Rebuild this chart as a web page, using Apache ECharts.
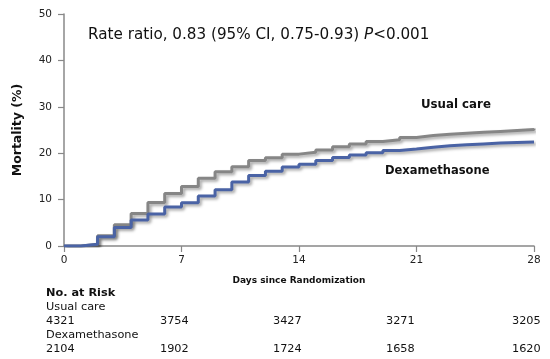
<!DOCTYPE html>
<html><head><meta charset="utf-8">
<script src="https://cdn.jsdelivr.net/npm/echarts@6/dist/echarts.min.js"></script>
<style>html,body{margin:0;padding:0;background:#fff}#c{width:550px;height:359px}</style>
</head><body><div id="c"></div>
<script>
const days = [0,1,2,3,4,5,6,7,8,9,10,11,12,13,14,15,16,17,18,19,20,21,22,23,24,25,26,27,28];
const usualCare = [0,0.3,2.2,4.6,7.0,9.4,11.3,12.8,14.6,16.0,17.1,18.4,19.0,19.8,20.2,20.7,21.4,22.0,22.5,22.9,23.4,23.8,24.1,24.3,24.5,24.7,24.9,25.1,25.3];
const dexamethasone = [0,0.4,2.0,4.0,5.6,6.9,8.4,9.3,10.8,12.1,13.8,15.2,16.1,17.0,17.6,18.4,19.1,19.6,20.1,20.6,20.9,21.3,21.6,21.8,22.0,22.2,22.3,22.4,22.5];
const xTicks = [0,7,14,21,28];
const yTicks = [0,10,20,30,40,50];
const riskGroups = ['Usual care','Dexamethasone'];
const riskUsual = [4321,3754,3427,3271,3205];
const riskDexa = [2104,1902,1724,1658,1620];
const annotation = 'Rate ratio, 0.83 (95% CI, 0.75-0.93) ';
const pText = 'P';
const pValue = '<0.001';

const FONT = 'DejaVu Sans';
const chart = echarts.init(document.getElementById('c'), null, {renderer:'canvas'});

const colX = [46, 160, 273, 386, 512];
const rowY = [295, 309, 323, 337, 351];
const graphics = [];
function txt(x, y, text, opts) {
  graphics.push({type:'text', left:x, top:y - 7, silent:true,
    style: Object.assign({text:text, fill:'#111', font:'11.3px "'+FONT+'"'}, opts||{})});
}
// risk table
txt(46, rowY[0], 'No. at Risk', {font:'bold 11.3px "'+FONT+'"'});
txt(46, rowY[1], riskGroups[0]);
riskUsual.forEach((v,i)=>txt(colX[i], rowY[2], String(v)));
txt(46, rowY[3], riskGroups[1]);
riskDexa.forEach((v,i)=>txt(colX[i], rowY[4], String(v)));
// curve labels
graphics.push({type:'text', left:421, top:99, silent:true, style:{text:riskGroups[0], fill:'#111', font:'bold 11.8px "'+FONT+'"'}});
graphics.push({type:'text', left:385, top:165, silent:true, style:{text:riskGroups[1], fill:'#111', font:'bold 11.5px "'+FONT+'"'}});
// annotation
graphics.push({type:'text', left:88, top:28, silent:true, style:{
  text:'{n|'+annotation+'}{i|'+pText+'}{n|'+pValue+'}',
  rich:{n:{fontFamily:FONT, fontSize:15.2, fill:'#111', color:'#111'}, i:{fontFamily:FONT, fontSize:15.2, fontStyle:'italic', fill:'#111', color:'#111'}}
}});

const option = {
  animation:false,
  backgroundColor:'#fff',
  grid:{left:64, right:16, top:14, bottom:113, containLabel:false},
  xAxis:{type:'value', min:0, max:28, interval:7,
    name:'Days since Randomization', nameLocation:'middle', nameGap:30,
    nameTextStyle:{fontFamily:FONT, fontWeight:'bold', fontSize:9, color:'#111'},
    axisLine:{lineStyle:{color:'#888', width:1.5}},
    axisTick:{show:true, length:6, lineStyle:{color:'#888', width:1.2}},
    axisLabel:{margin:9, fontFamily:FONT, fontSize:10.5, color:'#222', formatter:v=>xTicks.includes(v)?String(v):''},
    splitLine:{show:false}},
  yAxis:{type:'value', min:0, max:50, interval:10,
    name:'Mortality (%)', nameLocation:'middle', nameGap:40, nameRotate:90,
    nameTextStyle:{fontFamily:FONT, fontWeight:'bold', fontSize:12.5, color:'#111'},
    axisLine:{show:true, lineStyle:{color:'#888', width:1.5}},
    axisTick:{show:true, length:6, lineStyle:{color:'#888', width:1.2}},
    axisLabel:{margin:12, fontFamily:FONT, fontSize:10.5, color:'#222', formatter:v=>yTicks.includes(v)?String(v):''},
    splitLine:{show:false}},
  series:[
    {type:'line', step:'end', showSymbol:false, data:days.map((d,i)=>[d,usualCare[i]]),
      lineStyle:{color:'#868686', width:3, shadowColor:'rgba(0,0,0,0.35)', shadowBlur:3, shadowOffsetX:2, shadowOffsetY:2}},
    {type:'line', step:'end', showSymbol:false, data:days.map((d,i)=>[d,dexamethasone[i]]),
      lineStyle:{color:'#4a63a5', width:3, shadowColor:'rgba(0,0,0,0.35)', shadowBlur:3, shadowOffsetX:2, shadowOffsetY:2}}
  ],
  graphic:graphics
};
chart.setOption(option);
</script></body></html>
